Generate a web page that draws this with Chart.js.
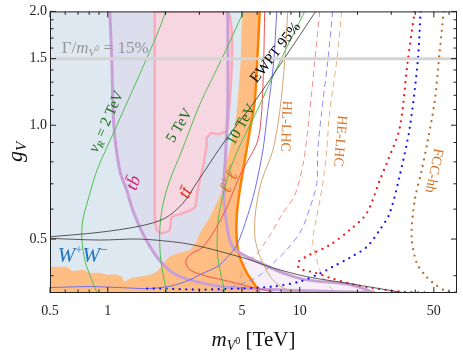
<!DOCTYPE html>
<html><head><meta charset="utf-8">
<script src="https://cdn.jsdelivr.net/npm/chart.js@4.4.0/dist/chart.umd.min.js"></script>
<style>html,body{margin:0;padding:0;background:#fff}canvas{display:block}</style>
</head><body>
<canvas id="c" width="463" height="354"></canvas>
<script>
// ---------- axes ----------
const xMajorTicks = [0.5, 1, 5, 10, 50];
const xTickLabels = ['0.5', '1', '5', '10', '50'];
const xMinorTicks = [0.6, 0.7, 0.8, 0.9, 2, 3, 4, 6, 7, 8, 9, 20, 30, 40, 60];
const yMajorTicks = [0.5, 1.0, 1.5, 2.0];
const yTickLabels = ['0.5', '1.0', '1.5', '2.0'];
const yMinorTicks = [0.4, 0.6, 0.7, 0.8, 0.9, 1.1, 1.2, 1.3, 1.4, 1.6, 1.7, 1.8, 1.9];

// ---------- excluded regions  [m_V0 (TeV), g_V] ----------
const wwRegion = [[0.5,2.0],[5.6,2.0],[5.4,1.47],[5.2,1.088],[4.9,0.908],[4.5,0.772],[4.3,0.672],[4.2,0.58],[3.6,0.518],[3.0,0.468],[2.4,0.44],[1.8,0.36],[0.5,0.36]];
const tbLeftEdge = [[1.024,2.0],[1.049,1.497],[1.075,1.0],[1.155,0.758],[1.256,0.672],[1.35,0.596],[1.52,0.518],[1.80,0.449],[2.18,0.407],[2.67,0.39],[3.97,0.374],[6.98,0.368],[10.87,0.365],[24.6,0.361]];
const tbRightEdge = [[24.6,0.361],[18.2,0.379],[10.87,0.39],[8.15,0.407],[6.19,0.433],[4.87,0.46],[4.42,0.482],[4.17,0.544],[4.02,0.672],[4.12,0.855],[4.22,1.156],[4.22,2.0]];
const ttRegion = [[1.757,2.0],[4.22,2.0],[4.22,0.982],[3.83,0.947],[3.48,0.953],[3.28,0.925],[3.28,0.892],[3.125,0.772],[2.94,0.672],[2.84,0.606],[2.46,0.585],[2.154,0.571],[2.10,0.528],[1.91,0.518],[1.80,0.528],[1.757,0.578],[1.757,2.0]];
const llLeftEdge = [[0.5,0.36],[0.5,0.42],[0.549,0.422],[0.612,0.422],[0.657,0.412],[0.741,0.415],[0.806,0.407],[0.908,0.407],[0.988,0.4025],[1.114,0.4025],[1.183,0.398],[1.226,0.386],[1.302,0.393],[1.468,0.398],[1.654,0.4025],[1.80,0.41],[1.98,0.435],[2.10,0.449],[2.37,0.46],[2.67,0.468],[2.873,0.488],[3.02,0.518],[3.40,0.571],[3.74,0.632],[3.93,0.672],[4.07,0.772],[4.42,0.908],[4.70,1.088],[4.93,1.471],[5.11,2.0]];
const llRightEdge = [[6.19,2.0],[6.04,1.562],[5.83,1.156],[5.49,0.9645],[5.17,0.805],[4.87,0.672],[4.70,0.578],[4.70,0.497],[4.87,0.449],[5.30,0.407],[5.83,0.379],[6.19,0.36]];

// ---------- contours ----------
const vR2TeV = [[2.005,2.0],[1.8,1.73],[1.302,1.191],[1.024,0.908],[0.877,0.758],[0.787,0.632],[0.741,0.561],[0.732,0.506],[0.75,0.454],[0.777,0.422],[0.877,0.361]];
const vR5TeV = [[5.11,2.0],[3.925,1.497],[3.015,1.135],[2.429,0.855],[2.103,0.714],[1.934,0.614],[1.866,0.528],[1.888,0.441],[2.029,0.361]];
const vR10TeV = [[10.62,2.0],[7.87,1.471],[5.97,1.088],[4.87,0.881],[4.32,0.758],[3.925,0.632],[3.74,0.544],[3.74,0.449],[4.07,0.361]];
const ewptUpper = [[0.5,0.507],[0.908,0.521],[1.468,0.541],[1.98,0.567],[2.458,0.621],[2.91,0.705],[4.07,0.908],[5.83,1.156],[8.35,1.507],[12.12,2.0]];
const ewptLower = [[0.5,0.502],[0.908,0.497],[1.468,0.5],[2.458,0.488],[3.28,0.4735],[4.477,0.454],[5.49,0.4406],[7.23,0.4198],[10.87,0.3977],[18.21,0.3812],[34.38,0.361]];
const hlTT = [[6.57,2.0],[6.49,1.471],[6.34,1.088],[6.04,0.908],[5.36,0.805],[4.87,0.735],[4.42,0.652],[4.17,0.606],[3.61,0.528],[3.125,0.476],[2.67,0.454],[2.55,0.435],[2.67,0.415],[3.2,0.4],[3.97,0.39],[5.49,0.374],[7.41,0.361]];
const hlWW = [[7.59,2.0],[7.32,1.471],[6.81,1.088],[6.42,0.855],[5.83,0.672],[5.36,0.578],[4.70,0.482],[4.07,0.44],[3.70,0.422],[3.02,0.4025],[2.67,0.39],[2.18,0.3766],[1.654,0.3699],[1.155,0.3721],[0.806,0.3744],[0.5,0.3721]];
const hlLL = [[8.66,2.0],[8.35,1.471],[7.87,1.088],[7.23,0.855],[6.34,0.714],[5.9,0.596],[5.83,0.512],[6.04,0.468],[6.42,0.433],[7.23,0.39],[8.55,0.3676],[10.62,0.361]];
const heTT = [[12.71,2.0],[11.97,1.471],[11.27,1.088],[10.49,0.805],[9.42,0.652],[8.15,0.585],[7.15,0.521],[6.04,0.46],[5.17,0.4274],[4.87,0.39],[4.64,0.361]];
const heWW = [[14.86,2.0],[13.99,1.471],[13.02,1.088],[12.41,0.855],[12.26,0.7008],[10.87,0.5708],[10.0,0.5184],[8.55,0.468],[7.59,0.4406],[6.42,0.4074],[5.69,0.3905],[4.477,0.3744],[3.607,0.361]];
const heLL = [[16.55,2.0],[15.58,1.471],[14.33,1.088],[13.82,0.855],[13.18,0.7008],[12.26,0.5708],[11.69,0.497],[12.26,0.4406],[13.18,0.3977],[14.86,0.3676],[17.15,0.361]];
const fccTT = [[39.7,2.0],[36.52,1.471],[33.18,0.982],[28.73,0.805],[26.1,0.714],[22.34,0.585],[18.21,0.528],[14.33,0.482],[11.27,0.454],[9.76,0.4326],[10.0,0.4173],[11.97,0.4074],[14.33,0.3953],[18.21,0.3812],[23.15,0.3721],[33.18,0.3632],[47.55,0.361]];
const fccWW = [[42.66,2.0],[41.18,1.471],[37.41,0.982],[33.18,0.735],[29.43,0.585],[26.1,0.528],[22.34,0.4764],[18.21,0.4459],[14.86,0.4223],[12.71,0.405],[10.0,0.3858],[7.23,0.3744],[4.87,0.3699],[3.02,0.3676],[1.866,0.3699],[1.596,0.3699]];
const fccLL = [[56.23,2.0],[53.6,1.562],[50.5,1.156],[46.42,0.908],[43.17,0.758],[39.7,0.632],[38.3,0.506],[40.66,0.4326],[44.77,0.4025],[49.29,0.3835],[58.29,0.3632],[65,0.361]];
const widthLine = [[0.5,1.5],[66,1.5]];

const pts = a => a.map(([x, y]) => ({x, y}));

function region(data, bg, border, bw) {
  return {data: pts(data), showLine: true, fill: 'shape', backgroundColor: bg,
          borderColor: border || 'rgba(0,0,0,0)', borderWidth: bw || 0, pointRadius: 0, tension: 0.2};
}
function curve(data, color, width, dash, cap) {
  return {data: pts(data), showLine: true, fill: false, borderColor: color, borderWidth: width,
          borderDash: dash || [], borderCapStyle: cap || 'butt', pointRadius: 0, tension: 0.3};
}

const layers = [
  region(wwRegion, 'rgb(222,232,241)'),
  region(tbLeftEdge.concat(tbRightEdge), 'rgba(215,180,225,0.22)'),
  region(ttRegion, 'rgba(252,212,220,0.8)', 'rgb(250,172,188)', 2.5),
  region(llLeftEdge.concat(llRightEdge), 'rgb(254,189,130)'),
  curve(llRightEdge, 'rgb(255,128,0)', 2.5),
  curve(tbLeftEdge, 'rgb(200,160,215)', 3),
  curve(tbRightEdge, 'rgb(200,160,215)', 3),
  curve(hlTT, 'rgb(240,80,80)', 1),
  curve(hlWW, 'rgb(110,110,240)', 1),
  curve(hlLL, 'rgb(215,165,115)', 1),
  curve(heTT, 'rgb(250,140,140)', 1, [6, 4]),
  curve(heWW, 'rgb(140,140,250)', 1, [6, 4]),
  curve(heLL, 'rgb(225,180,130)', 1, [6, 4]),
  curve(fccTT, 'rgb(235,25,25)', 2.3, [0, 6.5], 'round'),
  curve(fccWW, 'rgb(20,20,250)', 2.3, [0, 6.5], 'round'),
  curve(fccLL, 'rgb(185,105,35)', 2.3, [0, 6.5], 'round'),
  curve(vR2TeV, 'rgb(80,190,80)', 1),
  curve(vR5TeV, 'rgb(80,190,80)', 1),
  curve(vR10TeV, 'rgb(80,190,80)', 1),
  curve(ewptUpper, 'rgb(70,70,70)', 0.9),
  curve(ewptLower, 'rgb(70,70,70)', 0.9),
  curve(widthLine, 'rgb(212,212,212)', 3),
];
layers.forEach((d, i) => { d.order = layers.length - i; d.clip = 0; });

// ---------- text annotations (anchor in data coords) ----------
const SERIF = '"Liberation Serif", "DejaVu Serif", serif';
const labels = [
  {x: 0.576, y: 1.553, ang: 0, align: 'left', color: 'rgb(150,150,150)',
   parts: [['Γ/', 17], ['m', 17, 1], ['V', 11, 1, 3], ['0', 8, 0, -2], [' = 15%', 17]]},
  {x: 0.549, y: 0.435, ang: 0, align: 'left', color: 'rgb(30,115,190)',
   parts: [['W', 21, 1], ['+', 13, 0, -8], ['W', 21, 1], ['−', 13, 0, -8]]},
  {x: 1.35, y: 0.705, ang: -70, color: 'rgb(205,30,110)', parts: [['t', 18, 1], ['b\u0304', 18, 1]]},
  {x: 2.518, y: 0.6637, ang: -65, color: 'rgb(225,45,30)', parts: [['t', 18, 1], ['t\u0304', 18, 1]]},
  {x: 4.319, y: 0.722, ang: -65, color: 'rgb(215,115,40)',
   parts: [['ℓ', 18, 1], ['+', 12, 0, -7], ['ℓ', 18, 1], ['−', 12, 0, -7]]},
  {x: 0.976, y: 1.024, ang: -66, color: 'rgb(20,110,20)', parts: [['v', 15, 1], ['R', 10, 1, 3], [' = 2 TeV', 15]]},
  {x: 2.343, y: 1.0, ang: -59, color: 'rgb(20,110,20)', parts: [['5 TeV', 15]]},
  {x: 4.928, y: 1.006, ang: -60, color: 'rgb(20,110,20)', parts: [['10 TeV', 15]]},
  {x: 7.42, y: 1.562, ang: -52, color: 'rgb(0,0,0)', parts: [['EWPT 95%', 15]]},
  {x: 8.55, y: 0.994, ang: 92, color: 'rgb(215,120,50)', parts: [['HL-LHC', 14]]},
  {x: 16.35, y: 0.908, ang: 95, color: 'rgb(215,120,50)', parts: [['HE-LHC', 14]]},
  {x: 50.5, y: 0.758, ang: 102, color: 'rgb(210,110,30)', parts: [['FCC-hh', 14]]},
];

function fontOf(p) { return (p[2] ? 'italic ' : '') + p[1] + 'px ' + SERIF; }
function drawRich(ctx, parts, x, y, ang, align, color, middle) {
  ctx.save();
  ctx.translate(x, y);
  ctx.rotate(ang * Math.PI / 180);
  ctx.fillStyle = color;
  ctx.textBaseline = 'alphabetic';
  ctx.textAlign = 'left';
  let total = 0;
  const ws = parts.map(p => { ctx.font = fontOf(p); const w = ctx.measureText(p[0]).width; total += w; return w; });
  let cx = align === 'left' ? 0 : -total / 2;
  const base = middle ? parts[0][1] * 0.33 : 0;
  parts.forEach((p, i) => { ctx.font = fontOf(p); ctx.fillText(p[0], cx, base + (p[3] || 0)); cx += ws[i]; });
  ctx.restore();
}

const framePlugin = {
  id: 'frameTicks',
  afterDatasetsDraw(chart) {
    const {ctx, chartArea: a, scales: {x, y}} = chart;
    ctx.save();
    ctx.strokeStyle = '#222';
    ctx.lineWidth = 1;
    ctx.beginPath();
    const xt = (v, len) => { const p = x.getPixelForValue(v); ctx.moveTo(p, a.bottom); ctx.lineTo(p, a.bottom - len); ctx.moveTo(p, a.top); ctx.lineTo(p, a.top + len); };
    const yt = (v, len) => { const p = y.getPixelForValue(v); ctx.moveTo(a.left, p); ctx.lineTo(a.left + len, p); ctx.moveTo(a.right, p); ctx.lineTo(a.right - len, p); };
    xMajorTicks.forEach(v => xt(v, 6)); xMinorTicks.forEach(v => xt(v, 3.5));
    yMajorTicks.forEach(v => yt(v, 6)); yMinorTicks.forEach(v => yt(v, 3.5));
    ctx.stroke();
    ctx.strokeRect(a.left + 0.5, a.top + 0.5, a.right - a.left - 1, a.bottom - a.top - 1);
    ctx.restore();
  },
  afterDraw(chart) {
    const {ctx, chartArea: a, scales: {x, y}} = chart;
    labels.forEach(l => drawRich(ctx, l.parts, x.getPixelForValue(l.x), y.getPixelForValue(l.y), l.ang, l.align, l.color, l.align !== 'left'));
    // axis titles
    drawRich(ctx, [['m', 21, 1], ['V', 14, 1, 4], ['0', 10, 0, -2], [' [TeV]', 21]], (a.left + a.right) / 2, 346, 0, 'center', '#111', false);
    drawRich(ctx, [['g', 22, 1], ['V', 15, 1, 4]], 22, 152, -90, 'center', '#111', false);
  }
};

new Chart(document.getElementById('c'), {
  type: 'scatter',
  data: {datasets: layers},
  options: {
    responsive: false, animation: false, devicePixelRatio: 1,
    layout: {padding: {top: 9, right: 6, left: 0, bottom: 0}},
    plugins: {legend: {display: false}, tooltip: {enabled: false}},
    scales: {
      x: {
        type: 'logarithmic', min: 0.5, max: 66,
        grid: {display: false, drawTicks: false}, border: {display: false},
        afterFit: s => { s.height = 61; },
        afterBuildTicks: s => { s.ticks = xMajorTicks.map(v => ({value: v})); },
        ticks: {autoSkip: false, maxRotation: 0, padding: 10, color: '#222',
                font: {family: SERIF, size: 14},
                callback: (v, i) => xTickLabels[i]}
      },
      y: {
        type: 'logarithmic', min: 0.36, max: 2.0,
        grid: {display: false, drawTicks: false}, border: {display: false},
        afterFit: s => { s.width = 50; },
        afterBuildTicks: s => { s.ticks = yMajorTicks.map(v => ({value: v})); },
        ticks: {autoSkip: false, padding: 3, color: '#222',
                font: {family: SERIF, size: 14},
                callback: (v, i) => yTickLabels[i]}
      }
    }
  },
  plugins: [framePlugin]
});
</script>
</body></html>
